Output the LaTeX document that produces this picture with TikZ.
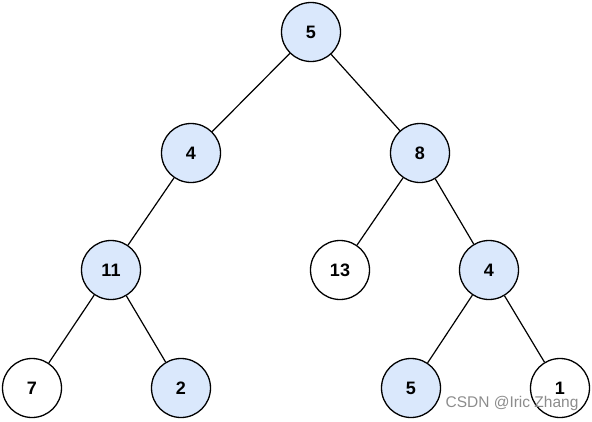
\documentclass[tikz,border=0pt]{standalone}
\usepackage{fontspec}
\setmainfont{Liberation Sans}
\definecolor{nodeblue}{HTML}{DAE8FC}
\begin{document}
\begin{tikzpicture}[x=1pt,y=-1pt,
  tn/.style={circle,draw=black,line width=1.3pt,minimum size=59pt,inner sep=0pt,font=\bfseries\fontsize{18}{20}\selectfont},
  bl/.style={tn,fill=nodeblue},
  wh/.style={tn,fill=white},
  edge/.style={draw=black,line width=1.2pt}]
\useasboundingbox (0,0) rectangle (592,421);
\node[bl] (n5) at (311,32) {5};
\node[bl] (n4) at (191,153) {4};
\node[bl] (n8) at (420,153) {8};
\node[bl] (n11) at (111,270) {11};
\node[wh] (n13) at (340,270) {13};
\node[bl] (n4b) at (489,270) {4};
\node[wh] (n7) at (32,388) {7};
\node[bl] (n2) at (181,388) {2};
\node[bl] (n5b) at (411,388) {5};
\node[wh] (n1) at (560,388) {1};
\draw[edge] (n5) -- (n4);
\draw[edge] (n5) -- (n8);
\draw[edge] (n4) -- (n11);
\draw[edge] (n8) -- (n13);
\draw[edge] (n8) -- (n4b);
\draw[edge] (n11) -- (n7);
\draw[edge] (n11) -- (n2);
\draw[edge] (n4b) -- (n5b);
\draw[edge] (n4b) -- (n1);
\node[anchor=center,text=black!45,font=\fontsize{15.5}{17}\selectfont,inner sep=0pt] (wm) at (512,403) {CSDN @Iric Zhang};
\end{tikzpicture}
\end{document}
